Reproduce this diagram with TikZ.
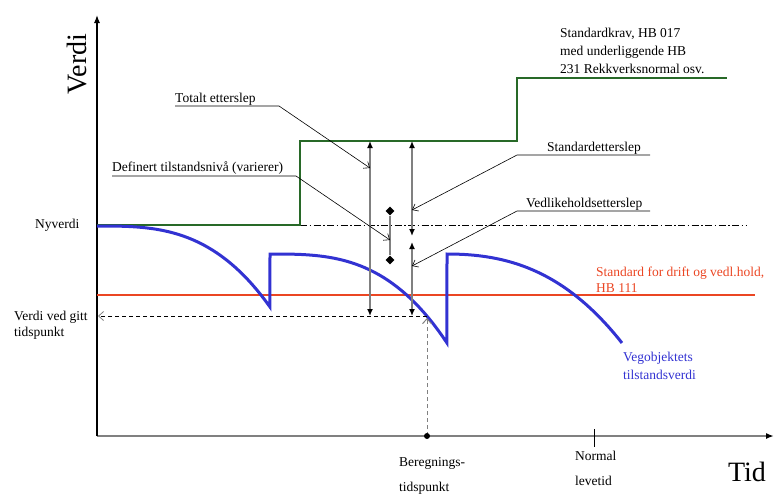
\documentclass[tikz,border=0pt]{standalone}
\usepackage{fontspec}
\setmainfont{Liberation Serif}
\usetikzlibrary{arrows.meta,shapes.geometric}
\definecolor{grn}{RGB}{40,105,40}
\definecolor{blu}{RGB}{50,50,210}
\definecolor{redo}{RGB}{235,70,35}
\definecolor{gr}{RGB}{128,128,128}
\begin{document}
\begin{tikzpicture}[x=1pt,y=-1pt,
  lbl/.style={font=\fontsize{13.5}{16}\selectfont, inner sep=0pt, anchor=base west},
  big/.style={font=\fontsize{28}{30}\selectfont, inner sep=0pt},
  leader/.style={black, line width=0.6pt, -{Straight Barb[length=5pt,width=8pt]}},
  dimarrow/.style={gr, line width=1.8pt, {Latex[black,length=7pt,width=6pt]}-{Latex[black,length=7pt,width=6pt]}},
  dia/.style={diamond, fill=black, inner sep=0pt, minimum size=9pt},
  curve/.style={blu, line width=3pt, line join=miter},
]
\useasboundingbox (0,0) rectangle (774,493);
% axes
\coordinate (O) at (97,436);
\coordinate (Ytop) at (97,15);
\coordinate (Xend) at (774,436);
\draw[gr, line width=1.6pt, -{Latex[black,length=8pt,width=6pt]}] (O) -- (Xend);
\draw[black, line width=1.2pt, -{Latex[black,length=8pt,width=6pt]}] (O) -- (Ytop);
\node[big, rotate=90] (verdi) at (77,64) {Verdi};
\node[big] (tid) at (747,472) {Tid};
% reference lines
\coordinate (r0) at (97,295); \coordinate (r1) at (755,295);
\draw[redo, line width=1.2pt] (r0) -- (r1);
\coordinate (dd0) at (300,225); \coordinate (dd1) at (747,225);
\draw[black, line width=0.7pt, dash pattern=on 7pt off 2.5pt on 1.5pt off 2.5pt] (dd0) -- (dd1);
% green standard line
\coordinate (g0) at (97,225); \coordinate (g1) at (300,225);
\coordinate (g2) at (300,141); \coordinate (g3) at (517,141);
\coordinate (g4) at (517,78);  \coordinate (g5) at (727,78);
\draw[grn, line width=2pt] (g0) -- (g1) -- (g2) -- (g3) -- (g4) -- (g5);
% blue curve
\draw[curve] plot[domain=0:1, samples=40] ({97+173*\x},{226+81*\x*\x*\x})
  -- (270,254) -- plot[domain=0:1, samples=40] ({270+177*\x},{254+89*\x*\x*\x})
  -- (447,254) -- plot[domain=0:1, samples=40] ({447+175*\x},{254+89*(0.5*\x*\x+0.5*\x*\x*\x)});
% value at time
\coordinate (bt) at (427,436);
\coordinate (bv) at (427,318);
\coordinate (hv0) at (427,316);
\coordinate (hv1) at (98,316);
\draw[gr, line width=1pt, dash pattern=on 4pt off 3pt, -{Straight Barb[length=5pt,width=9pt]}] (bt) -- (bv);
\draw[black, line width=0.8pt, dash pattern=on 4pt off 3pt, -{Straight Barb[gr,length=5pt,width=9pt]}] (hv0) -- (hv1);
\node[circle, fill=black, inner sep=0pt, minimum size=6pt] (btdot) at (bt) {};
\coordinate (tk0) at (594,429); \coordinate (tk1) at (594,447);
\draw[black, line width=1pt] (tk0) -- (tk1);
% dimension arrows
\coordinate (ta0) at (370,141); \coordinate (ta1) at (370,316);
\draw[dimarrow] (ta0) -- (ta1);
\coordinate (sa0) at (412,141); \coordinate (sa1) at (412,236);
\draw[dimarrow] (sa0) -- (sa1);
\coordinate (va0) at (412,242); \coordinate (va1) at (412,316);
\draw[dimarrow] (va0) -- (va1);
\node[dia] (d1) at (390,211) {};
\node[dia] (d2) at (390,260) {};
\draw[gr, line width=1.8pt] (d1) -- (d2);
% leaders
\coordinate (tl0) at (175,106); \coordinate (tl1) at (279,106); \coordinate (tl2) at (370,168);
\draw[leader] (tl0) -- (tl1) -- (tl2);
\coordinate (dl0) at (112,176); \coordinate (dl1) at (296,176); \coordinate (dl2) at (390,240);
\draw[leader] (dl0) -- (dl1) -- (dl2);
\coordinate (sl0) at (650,155); \coordinate (sl1) at (517,155); \coordinate (sl2) at (412,210);
\draw[leader] (sl0) -- (sl1) -- (sl2);
\coordinate (vl0) at (650,211); \coordinate (vl1) at (517,211); \coordinate (vl2) at (412,266);
\draw[leader] (vl0) -- (vl1) -- (vl2);
% labels
\node[lbl] (tot) at (175,102) {Totalt etterslep};
\node[lbl] (def) at (112,171) {Definert tilstandsnivå (varierer)};
\node[lbl] (std) at (547,151) {Standardetterslep};
\node[lbl] (ved) at (526,207) {Vedlikeholdsetterslep};
\node[lbl] (sk1) at (560,37) {Standardkrav, HB 017};
\node[lbl] (sk2) at (560,55) {med underliggende HB};
\node[lbl] (sk3) at (560,73) {231 Rekkverksnormal osv.};
\node[lbl] (ny) at (35,228) {Nyverdi};
\node[lbl] (vg1) at (14,320) {Verdi ved gitt};
\node[lbl] (vg2) at (14,336) {tidspunkt};
\node[lbl, text=redo] (rd1) at (596,276) {Standard for drift og vedl.hold,};
\node[lbl, text=redo] (rd2) at (596,292) {HB 111};
\node[lbl, text=blu] (bl1) at (623,361) {Vegobjektets};
\node[lbl, text=blu] (bl2) at (623,379) {tilstandsverdi};
\node[lbl] (be1) at (399,466) {Beregnings-};
\node[lbl] (be2) at (399,491) {tidspunkt};
\node[lbl] (nl1) at (575,460) {Normal};
\node[lbl] (nl2) at (575,485) {levetid};
\end{tikzpicture}
\end{document}
